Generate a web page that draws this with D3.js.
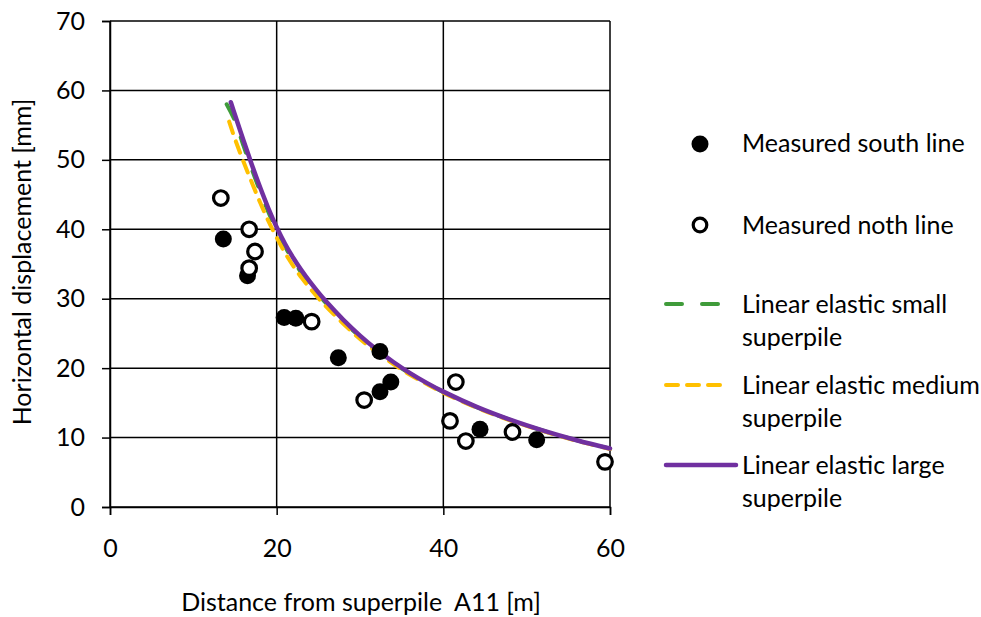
<!DOCTYPE html>
<html>
<head>
<meta charset="utf-8">
<script src="https://cdn.jsdelivr.net/npm/d3@7"></script>
<style>
  html, body { margin: 0; padding: 0; background: #fff; }
  svg { display: block; }
  text { font-family: Lato, "Open Sans", sans-serif; fill: #000; }
</style>
</head>
<body>
<svg id="chart" width="981" height="617"></svg>
<script>
// ---- data ----
const xTicks = [0, 20, 40, 60];
const yTicks = [0, 10, 20, 30, 40, 50, 60, 70];

const southX = [13.6, 16.5, 20.9, 22.3, 27.4, 32.4, 32.4, 33.7, 44.4, 51.2];
const southY = [38.6, 33.3, 27.3, 27.2, 21.5, 22.4, 16.6, 18.0, 11.2, 9.7];

const northX = [13.3, 16.7, 17.4, 16.7, 24.2, 30.5, 41.5, 40.8, 42.7, 48.3, 59.4];
const northY = [44.5, 40.0, 36.8, 34.4, 26.7, 15.4, 18.0, 12.4, 9.5, 10.8, 6.5];

const smallX = [14.0, 15, 16, 17, 18, 19, 20, 21, 22, 23, 24, 25, 26, 28, 30, 32, 34, 36, 38, 40, 44, 48, 52, 56, 60];
const smallY = [58.0, 55.6, 52.1, 48.7, 45.5, 42.5, 39.85, 37.5, 35.5, 33.7, 32.1, 30.6, 29.25, 26.75, 24.5, 22.5, 20.75, 19.2, 17.8, 16.55, 14.37, 12.55, 10.98, 9.6, 8.4];

const mediumX = [14.3, 15, 16, 17, 18, 19, 20, 21, 22, 23, 24, 25, 26, 28, 30, 32, 34, 36, 38, 40, 44, 48, 52, 56, 60];
const mediumY = [55.5, 53.0, 49.8, 46.8, 43.9, 41.2, 38.8, 36.6, 34.7, 33.0, 31.5, 30.1, 28.8, 26.4, 24.2, 22.3, 20.6, 19.05, 17.7, 16.45, 14.3, 12.48, 10.92, 9.55, 8.35];

const largeX = [14.5, 15, 16, 17, 18, 19, 20, 21, 22, 23, 24, 25, 26, 28, 30, 32, 34, 36, 38, 40, 44, 48, 52, 56, 60];
const largeY = [58.3, 56.46, 52.86, 49.38, 46.08, 43.03, 40.3, 37.92, 35.87, 34.06, 32.42, 30.91, 29.51, 26.96, 24.69, 22.67, 20.88, 19.29, 17.88, 16.62, 14.42, 12.58, 11.0, 9.62, 8.42];

const legendLabels = [
  ["Measured south line"],
  ["Measured noth line"],
  ["Linear elastic small", "superpile"],
  ["Linear elastic medium", "superpile"],
  ["Linear elastic large", "superpile"]
];
const xTitle = "Distance from superpile\u00A0 A11 [m]";
const yTitle = "Horizontal displacement [mm]";

// ---- layout ----
const svg = d3.select("#chart");
const plot = { left: 110, right: 610, top: 21, bottom: 507 };
const x = d3.scaleLinear().domain([0, 60]).range([plot.left, plot.right]);
const y = d3.scaleLinear().domain([0, 70]).range([plot.bottom, plot.top]);

const FONT = 25;

// gridlines
svg.append("g").selectAll("line").data(yTicks).join("line")
  .attr("x1", plot.left).attr("x2", plot.right)
  .attr("y1", d => y(d)).attr("y2", d => y(d))
  .attr("stroke", "#000").attr("stroke-width", 1.5);
svg.append("g").selectAll("line").data(xTicks).join("line")
  .attr("y1", plot.top).attr("y2", plot.bottom)
  .attr("x1", d => x(d)).attr("x2", d => x(d))
  .attr("stroke", "#000").attr("stroke-width", 1.5);

// axes
const yAxis = svg.append("g").attr("transform", `translate(${plot.left},0)`)
  .call(d3.axisLeft(y).tickValues(yTicks).tickSize(8).tickPadding(17));
const xAxis = svg.append("g").attr("transform", `translate(0,${plot.bottom})`)
  .call(d3.axisBottom(x).tickValues(xTicks).tickSize(8).tickPadding(24));
[yAxis, xAxis].forEach(a => {
  a.selectAll("path.domain").attr("stroke", "#000").attr("stroke-width", 1.5);
  a.selectAll(".tick line").attr("stroke", "#000").attr("stroke-width", 1.5);
  a.selectAll("text").attr("font-size", FONT).attr("font-family", "Lato, 'Open Sans', sans-serif").attr("fill", "#000");
});

// series lines
const line = d3.line().x(d => x(d[0])).y(d => y(d[1])).curve(d3.curveCatmullRom.alpha(0.5));
const zip = (a, b) => a.map((v, i) => [v, b[i]]);

const series = [
  { xs: smallX, ys: smallY, color: "#3F9B3A", dash: "16,20", width: 4 },
  { xs: mediumX, ys: mediumY, color: "#FFC000", dash: "12,9", width: 4 },
  { xs: largeX, ys: largeY, color: "#7030A0", dash: null, width: 4.5 }
];
series.forEach(s => {
  svg.append("path").datum(zip(s.xs, s.ys))
    .attr("d", line).attr("fill", "none")
    .attr("stroke", s.color).attr("stroke-width", s.width)
    .attr("stroke-linecap", "round")
    .attr("stroke-dasharray", s.dash);
});

// markers
svg.append("g").selectAll("circle").data(zip(southX, southY)).join("circle")
  .attr("cx", d => x(d[0])).attr("cy", d => y(d[1])).attr("r", 8.5)
  .attr("fill", "#000");
svg.append("g").selectAll("circle").data(zip(northX, northY)).join("circle")
  .attr("cx", d => x(d[0])).attr("cy", d => y(d[1])).attr("r", 7.3)
  .attr("fill", "#fff").attr("stroke", "#000").attr("stroke-width", 3.2);

// axis titles
svg.append("text").attr("x", 361).attr("y", 611).attr("text-anchor", "middle")
  .attr("font-size", FONT).text(xTitle);
svg.append("text").attr("transform", "translate(31,262) rotate(-90)")
  .attr("text-anchor", "middle").attr("font-size", FONT).text(yTitle);

// legend
const legY = [143, 225, 304, 385, 465];
const lg = svg.append("g");
lg.append("circle").attr("cx", 700).attr("cy", legY[0] + 1).attr("r", 8.5).attr("fill", "#000");
lg.append("circle").attr("cx", 700).attr("cy", legY[1]).attr("r", 6.8)
  .attr("fill", "#fff").attr("stroke", "#000").attr("stroke-width", 3.2);
const legLineEnds = [726, 726, 736];
series.forEach((s, i) => {
  lg.append("line").attr("x1", 666).attr("x2", legLineEnds[i])
    .attr("y1", legY[i + 2]).attr("y2", legY[i + 2])
    .attr("stroke", s.color).attr("stroke-width", s.width)
    .attr("stroke-linecap", "round")
    .attr("stroke-dasharray", s.dash);
});
legendLabels.forEach((lines, i) => {
  const t = lg.append("text").attr("x", 742).attr("y", legY[i] + 8.5).attr("font-size", FONT);
  lines.forEach((l, j) => {
    t.append("tspan").attr("x", 742).attr("dy", j === 0 ? 0 : 33).text(l);
  });
});
</script>
</body>
</html>
